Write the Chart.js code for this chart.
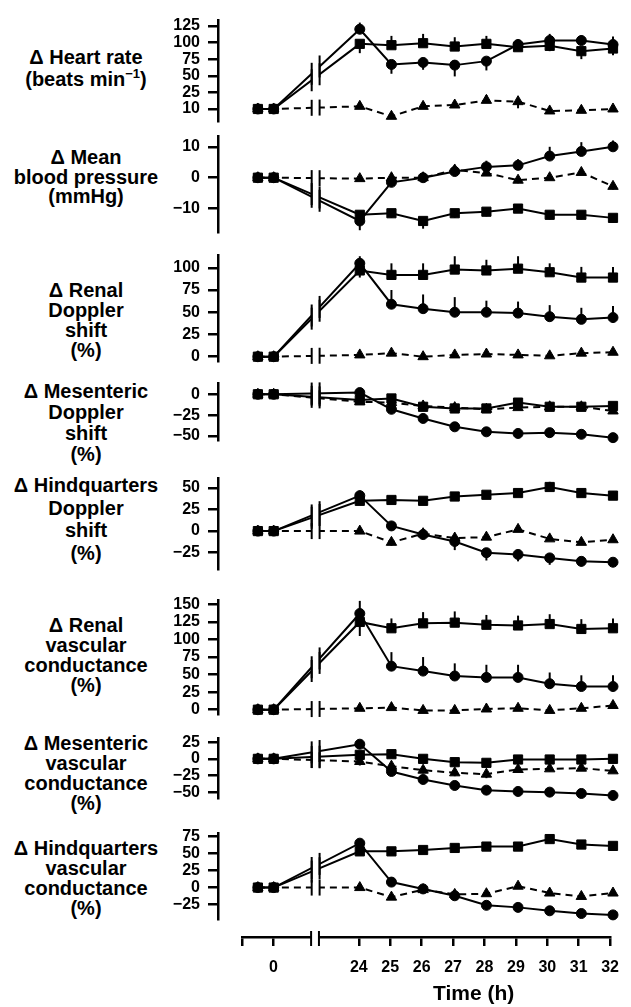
<!DOCTYPE html>
<html>
<head>
<meta charset="utf-8">
<script src="https://cdn.jsdelivr.net/npm/chart.js@4/dist/chart.umd.min.js"></script>
<style>
  body { margin: 0; background: #fff; width: 631px; height: 1007px; position: relative; overflow: hidden; }
  canvas { position: absolute; left: 0; }
  .ttl { position: absolute; left: 0; width: 172px; text-align: center; font: bold 20px 'Liberation Sans', Arial, sans-serif; color: #000; }
  .ttl sup { font-size: 13px; line-height: 0; }
  .xt { position: absolute; font: bold 21px 'Liberation Sans', Arial, sans-serif; color: #000; }
</style>
</head>
<body>
<script>
// time points (h); two baseline readings, then 24-32 h
const times = [-0.5, 0, 24, 25, 26, 27, 28, 29, 30, 31, 32];
const axisTicks = [-1, 0, 24, 25, 26, 27, 28, 29, 30, 31, 32];
const axisLabels = ["", "0", "24", "25", "26", "27", "28", "29", "30", "31", "32"];

// heart rate
const hrCircle = [0, 0, 120, 67, 70, 66, 72, 97, 103, 103, 97];
const hrSquare = [0, 0, 98, 96, 99, 94, 98, 93, 95, 87, 91];
const hrTriangle = [0, 0, 4, -11, 4, 6, 13, 11, -3, -2, 0];
const hrCircleErr = [0, 0, 10, -14, -11, -17, -14, 8, 10, 8, 12];
const hrSquareErr = [0, 0, -14, 14, 14, 14, 12, -6, -8, -12, -10];
const hrTriangleErr = [0, 0, 5, -4, 6, 6, 8, -10, -3, 0, 0];
const hrTicks = [0, 25, 50, 75, 100, 125];
const hrTickLabels = ["10", "25", "50", "75", "100", "125"];

// mean blood pressure
const bpCircle = [0, 0, -14, -1.5, 0, 2, 3.5, 4, 7, 8.5, 10];
const bpSquare = [0, 0, -12, -11.5, -14, -11.5, -11, -10, -12, -12, -13];
const bpTriangle = [0, 0, -0.3, 0, 0, 2.5, 1.5, -0.8, 0, 1.7, -2.8];
const bpCircleErr = [0, 0, -3, 0, 0, 2, 2, 2, 3, 3, 2];
const bpSquareErr = [0, 0, 0, -1.5, -2.5, -1.5, -1.5, 1.5, -1.5, -1.5, -1.5];
const bpTriangleErr = [0, 0, 0, 1, 0, 1.5, 0, -1, 0, 1, -1];
const bpTicks = [-10, 0, 10];

// renal Doppler shift
const rdCircle = [0, 0, 105, 59, 54, 50, 50, 49, 45, 42, 44];
const rdSquare = [0, 0, 97, 92, 92, 98, 97, 99, 95, 89, 89];
const rdTriangle = [0, 0, 2, 4, 0, 2, 3, 2, 1, 4, 5];
const rdCircleErr = [0, 0, 8, 16, 16, 17, 13, 13, 13, 13, 13];
const rdSquareErr = [0, 0, -8, 13, 13, 15, 12, 14, 10, 12, 12];
const rdTriangleErr = [0, 0, 0, 2, -2, 2, 2, 0, -2, 2, 2];
const rdTicks = [0, 25, 50, 75, 100];

// mesenteric Doppler shift
const mdCircle = [0, 0, 2, -18, -29, -39, -45, -47, -46, -48, -52];
const mdSquare = [0, 0, -7, -5, -15, -17, -17, -10, -15, -15, -14];
const mdTriangle = [0, 0, -9, -10, -14, -16, -18, -16, -15, -15, -20];
const mdCircleErr = [0, 0, 0, -4, -3, -3, -2, -2, -2, -2, -2];
const mdSquareErr = [0, 0, -3, 3, -3, -3, -3, 3, -2, -2, -3];
const mdTriangleErr = [0, 0, 0, -3, -3, -3, -3, -3, -3, -3, -3];
const mdTicks = [-50, -25, 0];

// hindquarters Doppler shift
const hdCircle = [0, 0, 41, 6, -4, -12, -25, -27, -31, -35, -36];
const hdSquare = [0, 0, 35, 36, 35, 40, 42, 44, 51, 44, 41];
const hdTriangle = [0, 0, 0, -13, -3, -8, -7, 2, -9, -13, -10];
const hdCircleErr = [0, 0, 6, 3, -5, -10, -9, -8, -8, -6, -5];
const hdSquareErr = [0, 0, 6, 0, 3, 3, 4, 4, 6, 3, 5];
const hdTriangleErr = [0, 0, 0, -4, 3, -3, 0, 3, 0, 0, 0];
const hdTicks = [-25, 0, 25, 50];

// renal vascular conductance
const rvCircle = [0, 0, 137, 62, 55, 48, 46, 46, 37, 33, 33];
const rvSquare = [0, 0, 125, 116, 123, 124, 121, 120, 122, 115, 116];
const rvTriangle = [0, 0, 2, 3, -1, -1, 1, 2, -1, 2, 6];
const rvCircleErr = [0, 0, 18, 20, 20, 18, 18, 18, 16, 16, 16];
const rvSquareErr = [0, 0, -20, 14, 16, 16, 14, 14, 14, 14, 14];
const rvTriangleErr = [0, 0, 0, 0, 0, 0, 0, 0, 0, 2, 5];
const rvTicks = [0, 25, 50, 75, 100, 125, 150];

// mesenteric vascular conductance
const mvCircle = [0, 0, 22, -19, -31, -40, -47, -49, -50, -52, -55];
const mvSquare = [0, 0, 6, 7, 0, -5, -6, -1, -1, -1, 0];
const mvTriangle = [0, 0, -4, -11, -17, -21, -23, -16, -15, -14, -18];
const mvCircleErr = [0, 0, 4, -3, -3, -3, -2, -2, -2, -2, -2];
const mvSquareErr = [0, 0, 4, 3, -4, -4, -4, -3, -3, -3, -3];
const mvTriangleErr = [0, 0, -6, -4, -5, -5, -6, -4, -4, -4, -3];
const mvTicks = [-50, -25, 0, 25];

// hindquarters vascular conductance
const hvCircle = [0, 0, 65, 8, -2, -12, -26, -29, -34, -38, -40];
const hvSquare = [0, 0, 53, 53, 55, 58, 60, 60, 71, 63, 61];
const hvTriangle = [0, 0, 0, -14, -3, -10, -9, 2, -8, -13, -8];
const hvCircleErr = [0, 0, 6, 3, 4, -6, -5, -4, -4, -4, -4];
const hvSquareErr = [0, 0, 6, 3, 3, 3, 3, 4, 5, 4, 5];
const hvTriangleErr = [0, 0, 0, -3, -3, -3, 0, 4, 0, 0, 0];
const hvTicks = [-25, 0, 25, 50, 75];

const INK = "#000";
const FONT = "'Liberation Sans', Arial, sans-serif";
const GAP = 2.72;              // axis units between 0 h and 24 h (broken axis)
const BREAK = [1.2, 1.45];     // where the axis is cut
const X_MAX = 8 + GAP;
const X_MIN = -1.76;
const PAD = 14;

// place a time on the broken axis
const pos = t => (t <= 0 ? t : t - 24 + GAP);

const panels = [
  { title: "&Delta; Heart rate<br>(beats min<sup>&minus;1</sup>)", tTop: 46, lh: 22,
    top: 17, bottom: 125, min: -18.7, max: 133, ticks: hrTicks, labels: hrTickLabels,
    circle: hrCircle, square: hrSquare, tri: hrTriangle, cE: hrCircleErr, sE: hrSquareErr, tE: hrTriangleErr },
  { title: "&Delta; Mean<br>blood pressure<br>(mmHg)", tTop: 148, lh: 19.5,
    top: 133, bottom: 236, min: -17.7, max: 13.3, ticks: bpTicks,
    circle: bpCircle, square: bpSquare, tri: bpTriangle, cE: bpCircleErr, sE: bpSquareErr, tE: bpTriangleErr },
  { title: "&Delta; Renal<br>Doppler<br>shift<br>(%)", tTop: 280, lh: 20,
    top: 252, bottom: 365, min: -5.3, max: 113.7, ticks: rdTicks,
    circle: rdCircle, square: rdSquare, tri: rdTriangle, cE: rdCircleErr, sE: rdSquareErr, tE: rdTriangleErr },
  { title: "&Delta; Mesenteric<br>Doppler<br>shift<br>(%)", tTop: 381, lh: 21,
    top: 380, bottom: 444, min: -55.3, max: 12.8, ticks: mdTicks,
    circle: mdCircle, square: mdSquare, tri: mdTriangle, cE: mdCircleErr, sE: mdSquareErr, tE: mdTriangleErr },
  { title: "&Delta; Hindquarters<br>Doppler<br>shift<br>(%)", tTop: 474, lh: 22.5,
    top: 475, bottom: 573, min: -44.3, max: 60.7, ticks: hdTicks,
    circle: hdCircle, square: hdSquare, tri: hdTriangle, cE: hdCircleErr, sE: hdSquareErr, tE: hdTriangleErr },
  { title: "&Delta; Renal<br>vascular<br>conductance<br>(%)", tTop: 615, lh: 20,
    top: 597, bottom: 718, min: -6.7, max: 155.4, ticks: rvTicks,
    circle: rvCircle, square: rvSquare, tri: rvTriangle, cE: rvCircleErr, sE: rvSquareErr, tE: rvTriangleErr },
  { title: "&Delta; Mesenteric<br>vascular<br>conductance<br>(%)", tTop: 733, lh: 20,
    top: 735, bottom: 802, min: -59.4, max: 30.4, ticks: mvTicks,
    circle: mvCircle, square: mvSquare, tri: mvTriangle, cE: mvCircleErr, sE: mvSquareErr, tE: mvTriangleErr },
  { title: "&Delta; Hindquarters<br>vascular<br>conductance<br>(%)", tTop: 838, lh: 20,
    top: 830, bottom: 923, min: -46.6, max: 79, ticks: hvTicks,
    circle: hvCircle, square: hvSquare, tri: hvTriangle, cE: hvCircleErr, sE: hvSquareErr, tE: hvTriangleErr },
];

// cut the lines between 0 h and 24 h and draw the "||" marks
const breakPlugin = {
  id: "axisBreak",
  afterDatasetsDraw(chart) {
    const ctx = chart.ctx;
    const xs = chart.scales.x;
    const b1 = xs.getPixelForValue(BREAK[0]);
    const b2 = xs.getPixelForValue(BREAK[1]);
    const marks = [];
    chart.data.datasets.forEach((ds, i) => {
      const pts = chart.getDatasetMeta(i).data;
      const a = pts[1], b = pts[2];
      const yAt = x => a.y + (b.y - a.y) * (x - a.x) / (b.x - a.x);
      const y1 = yAt(b1), y2 = yAt(b2);
      ctx.clearRect(b1, Math.min(y1, y2) - 4, b2 - b1, Math.abs(y2 - y1) + 8);
      const h = ds.borderDash.length ? 8 : 11;
      marks.push([b1, y1, h], [b2, y2, h]);
    });
    ctx.save();
    ctx.strokeStyle = INK;
    ctx.lineWidth = 2;
    marks.forEach(([x, y, h]) => {
      ctx.beginPath();
      ctx.moveTo(x, y - h);
      ctx.lineTo(x, y + h);
      ctx.stroke();
    });
    ctx.restore();
  }
};

// one-sided SEM bars
const errPlugin = {
  id: "errBars",
  afterDatasetsDraw(chart) {
    const ctx = chart.ctx;
    const ys = chart.scales.y;
    ctx.save();
    ctx.strokeStyle = INK;
    ctx.lineWidth = 2;
    chart.data.datasets.forEach((ds, i) => {
      chart.getDatasetMeta(i).data.forEach((pt, j) => {
        const e = ds.errs[j];
        if (!e) return;
        ctx.beginPath();
        ctx.moveTo(pt.x, pt.y);
        ctx.lineTo(pt.x, ys.getPixelForValue(ds.data[j].y + e));
        ctx.stroke();
      });
    });
    ctx.restore();
  }
};

function series(values, errs, style, radius, dash) {
  return {
    data: values.map((v, i) => ({ x: pos(times[i]), y: v })),
    errs: errs,
    borderColor: INK,
    backgroundColor: INK,
    borderWidth: 2,
    borderDash: dash,
    pointStyle: style,
    pointRadius: radius,
    pointBorderWidth: 1,
    tension: 0,
    clip: false,
  };
}

panels.forEach(p => {
  const t = document.createElement("div");
  t.className = "ttl";
  t.style.top = p.tTop + "px";
  t.style.lineHeight = p.lh + "px";
  t.innerHTML = p.title;
  document.body.appendChild(t);

  const cv = document.createElement("canvas");
  cv.width = 631;
  cv.height = p.bottom - p.top + 2 * PAD;
  cv.style.top = (p.top - PAD) + "px";
  document.body.appendChild(cv);

  const labels = p.labels || p.ticks.map(v => (v < 0 ? "\u2212" + Math.abs(v) : String(v)));

  new Chart(cv, {
    type: "line",
    data: {
      datasets: [
        series(p.tri, p.tE, "triangle", 6, [7, 5]),
        series(p.square, p.sE, "rect", 6.5, []),
        series(p.circle, p.cE, "circle", 5, []),
      ],
    },
    options: {
      responsive: false,
      animation: false,
      layout: { padding: { top: PAD, bottom: PAD, left: 0, right: 631 - 613 } },
      plugins: { legend: { display: false }, tooltip: { enabled: false } },
      scales: {
        x: { type: "linear", display: false, min: X_MIN, max: X_MAX },
        y: {
          min: p.min,
          max: p.max,
          afterFit: s => { s.width = 218; },
          afterBuildTicks: s => { s.ticks = p.ticks.map(v => ({ value: v })); },
          ticks: {
            autoSkip: false,
            padding: 8,
            color: INK,
            font: { family: FONT, size: 16, weight: "bold" },
            callback: (v, i) => labels[i],
          },
          grid: { drawOnChartArea: false, drawTicks: true, tickLength: 10, color: INK, lineWidth: 2.5 },
          border: { display: true, color: INK, width: 2.5 },
        },
      },
    },
    plugins: [breakPlugin, errPlugin],
  });
});

// shared time axis at the bottom
const axCanvas = document.createElement("canvas");
axCanvas.width = 631;
axCanvas.height = 107;
axCanvas.style.top = "900px";
document.body.appendChild(axCanvas);

const axisBreakPlugin = {
  id: "timeAxisBreak",
  afterDraw(chart) {
    const ctx = chart.ctx;
    const xs = chart.scales.x;
    const b1 = xs.getPixelForValue(BREAK[0]);
    const b2 = xs.getPixelForValue(BREAK[1]);
    const y = chart.chartArea.bottom;
    ctx.clearRect(b1, y - 4, b2 - b1, 8);
    ctx.save();
    ctx.strokeStyle = INK;
    ctx.lineWidth = 2;
    [b1, b2].forEach(x => {
      ctx.beginPath();
      ctx.moveTo(x, y - 6);
      ctx.lineTo(x, y + 9);
      ctx.stroke();
    });
    ctx.restore();
  }
};

new Chart(axCanvas, {
  type: "line",
  data: { datasets: [{ data: [] }] },
  options: {
    responsive: false,
    animation: false,
    layout: { padding: { top: 10, bottom: 0, left: 242, right: 631 - 613 } },
    plugins: { legend: { display: false }, tooltip: { enabled: false } },
    scales: {
      y: { display: false },
      x: {
        type: "linear",
        min: -1,
        max: X_MAX,
        afterFit: s => { s.height = 70; },
        afterBuildTicks: s => { s.ticks = axisTicks.map(t => ({ value: pos(t) })); },
        ticks: {
          autoSkip: false,
          maxRotation: 0,
          padding: 12,
          color: INK,
          font: { family: FONT, size: 16, weight: "bold" },
          callback: (v, i) => axisLabels[i],
        },
        grid: { drawOnChartArea: false, drawTicks: true, tickLength: 9, color: INK, lineWidth: 2.5 },
        border: { display: true, color: INK, width: 2.5 },
      },
    },
  },
  plugins: [axisBreakPlugin],
});

const xt = document.createElement("div");
xt.className = "xt";
xt.style.left = "433px";
xt.style.top = "981px";
xt.textContent = "Time (h)";
document.body.appendChild(xt);
</script>
</body>
</html>
